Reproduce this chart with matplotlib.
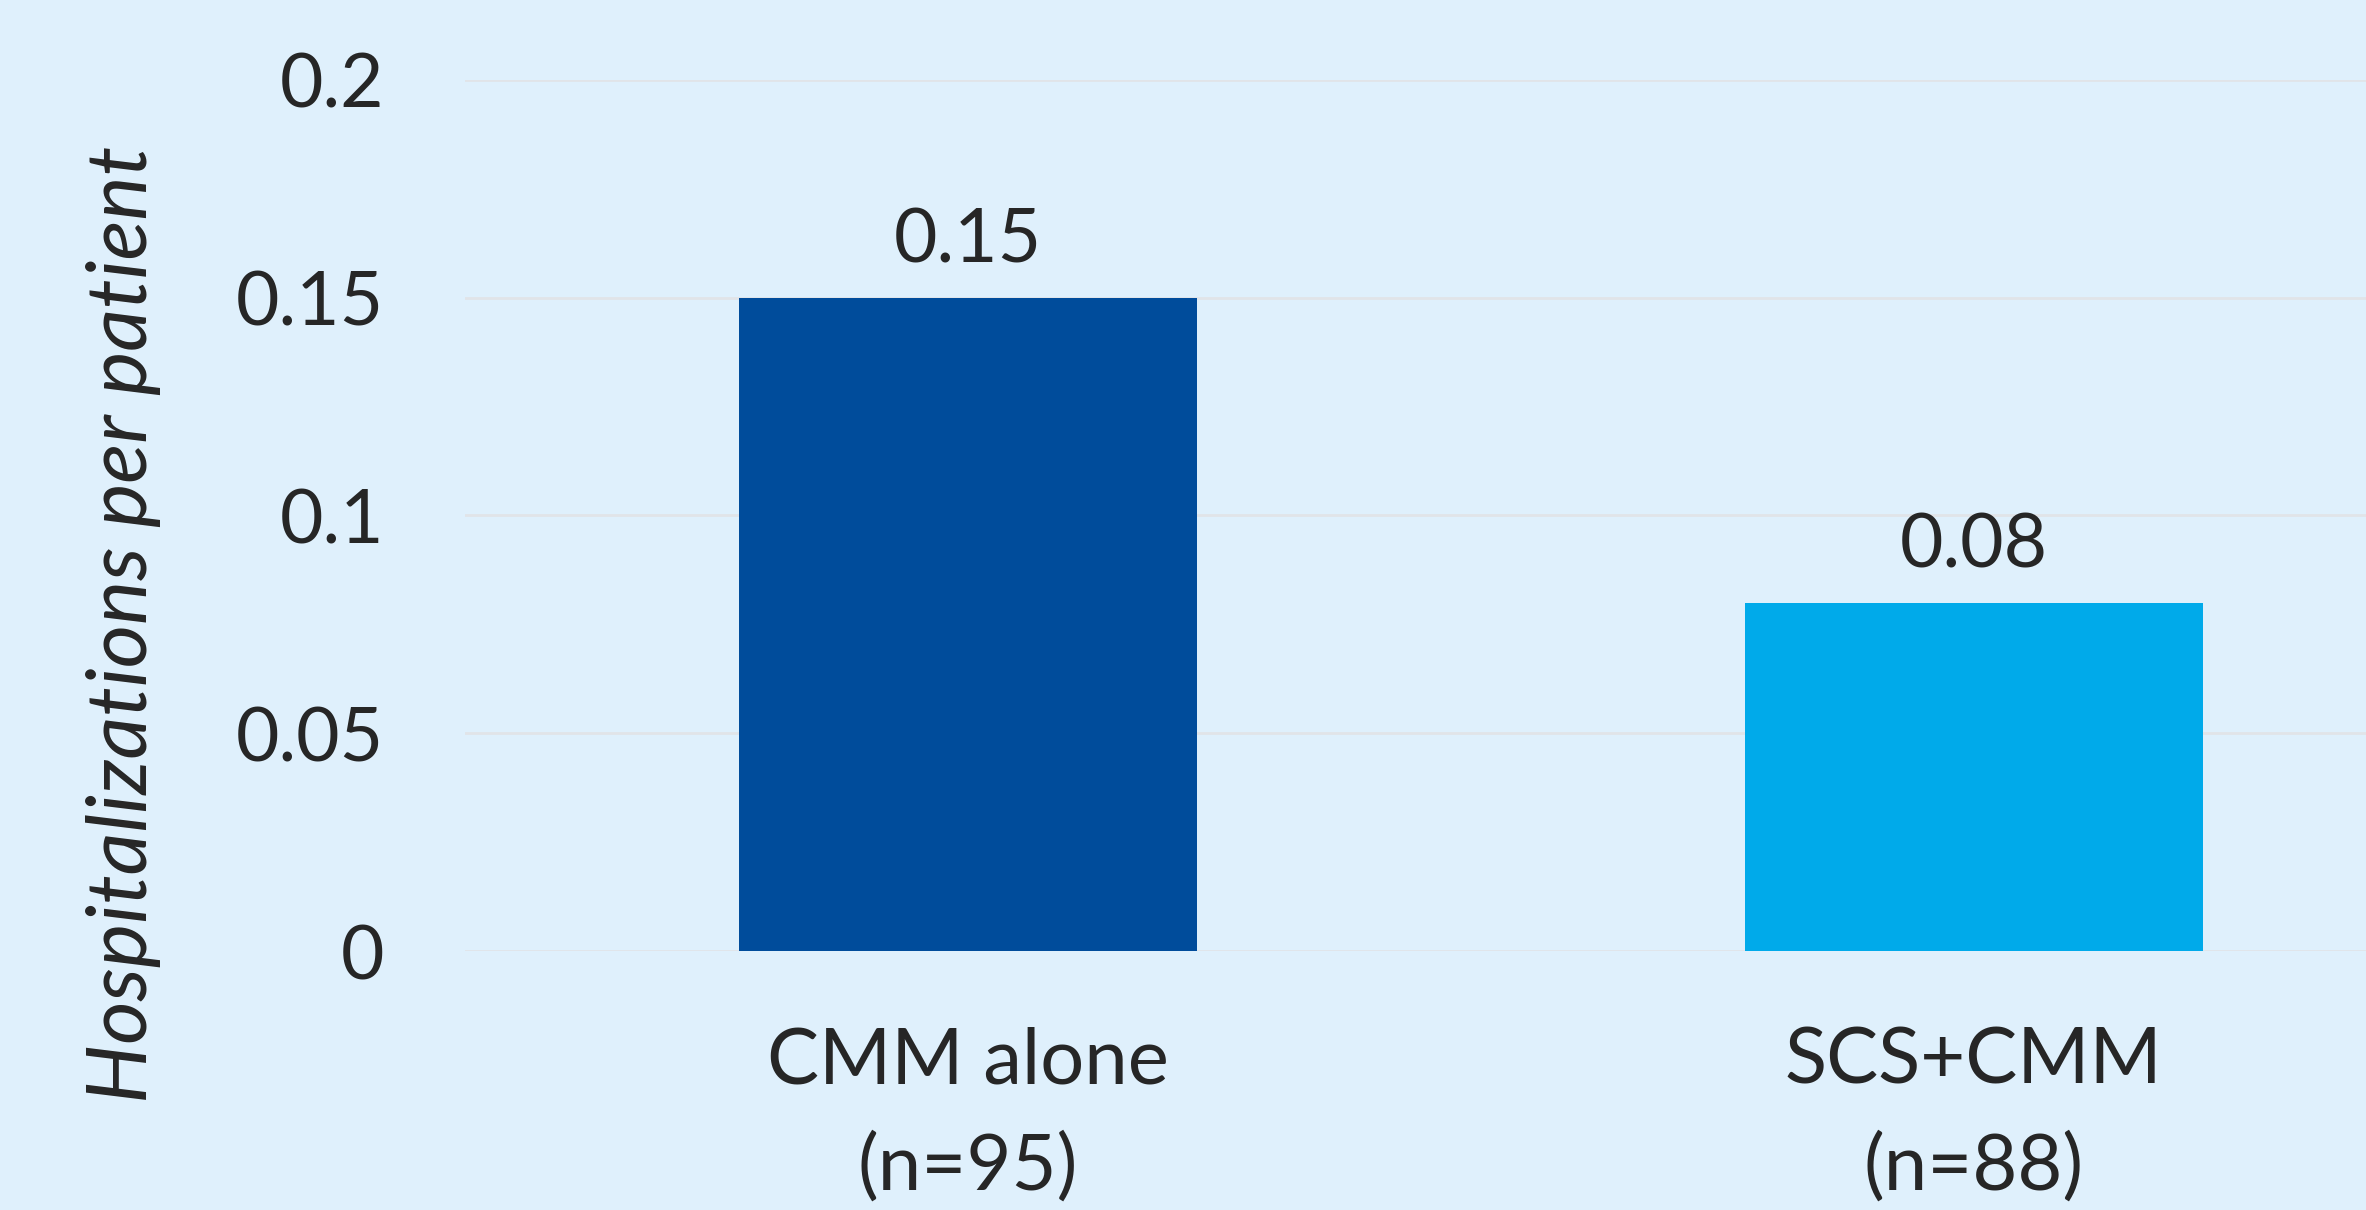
import matplotlib
matplotlib.use("Agg")
import matplotlib.pyplot as plt

groups = ["CMM alone\n(n=95)", "SCS+CMM\n(n=88)"]
values = [0.15, 0.08]
value_labels = ["0.15", "0.08"]
bar_colors = ["#004C9B", "#00AAEA"]
yticks = [0, 0.05, 0.1, 0.15, 0.2]
ytick_labels = ["0", "0.05", "0.1", "0.15", "0.2"]

bg = "#DFF0FC"
text_col = "#262626"
plt.rcParams["font.family"] = ["Lato", "DejaVu Sans"]

fig = plt.figure(figsize=(23.66, 12.10), dpi=100)
fig.patch.set_facecolor(bg)
ax = fig.add_axes([0.1965, 0.214, 0.8035, 0.72])
ax.set_facecolor(bg)

x = range(len(groups))
ax.bar(x, values, width=0.455, color=bar_colors, zorder=3)
for xi, v, lab in zip(x, values, value_labels):
    ax.annotate(lab, (xi, v), xytext=(0, 16), textcoords="offset points",
                ha="center", va="bottom", fontsize=54, color=text_col)

ax.set_ylim(0, 0.2)
ax.set_xlim(-0.5, 1.39)
ax.set_yticks(yticks)
ax.set_yticklabels(ytick_labels)
ax.set_xticks(list(x))
ax.set_xticklabels(groups, linespacing=1.6)
ax.tick_params(axis="y", length=0, pad=58, labelsize=54, labelcolor=text_col)
ax.tick_params(axis="x", length=0, pad=54, labelsize=56, labelcolor=text_col)
ax.grid(axis="y", color="#E1E4E8", linewidth=2, zorder=0)
ax.set_axisbelow(True)
for s in ax.spines.values():
    s.set_visible(False)

ax.set_ylabel("Hospitalizations per patient", fontsize=60, style="italic",
              color=text_col)
ax.yaxis.set_label_coords(-0.16, 0.375)

fig.savefig("out.png", dpi=100, facecolor=bg)
